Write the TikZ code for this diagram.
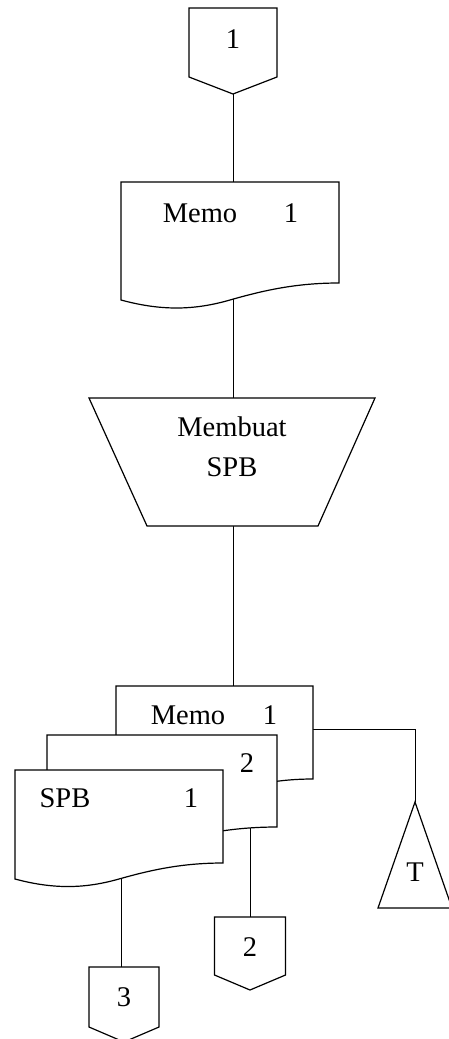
\documentclass[tikz,border=0pt]{standalone}
\usepackage{fontspec}
\setmainfont{Liberation Serif}
\pgfdeclarelayer{bg}
\pgfsetlayers{bg,main}

% Document sheet with a wavy bottom edge.
% #1 name, #2 left, #3 top, #4 right, #5 bottom of right side, #6 bottom of left side
\newcommand\docsheet[6]{%
  \draw[sheet] (#2,#6) -- (#2,#3) -- (#4,#3) -- (#4,#5)
    .. controls ({#2+0.8*(#4-#2)},#5) and ({#2+0.65*(#4-#2)},{#6-0.55*(#6-#5)}) .. ({#2+0.5*(#4-#2)},#6)
    .. controls ({#2+0.35*(#4-#2)},{#6+0.55*(#6-#5)}) and ({#2+0.2*(#4-#2)},{#6+0.7*(#6-#5)}) .. (#2,#6) -- cycle;
  \coordinate (#1-mid) at ({(#2+#4)/2},{(#3+#5)/2});
}

% Off-page connector (pentagon pointing down).
% #1 name, #2 centre x, #3 top, #4 half width, #5 bottom of sides, #6 tip
\newcommand\offpage[6]{%
  \draw[sheet] ({#2-#4},#3) -- ({#2+#4},#3) -- ({#2+#4},#5) -- (#2,#6) -- ({#2-#4},#5) -- cycle;
  \coordinate (#1-top) at (#2,#3);
  \coordinate (#1-tip) at (#2,#6);
  \coordinate (#1-mid) at (#2,{(#3+#5)/2});
}

\begin{document}
\begin{tikzpicture}[x=1pt,y=-1pt,line width=1.2pt,line join=miter,
  sheet/.style={draw=black,fill=white},
  flow/.style={draw=black},
  lbl/.style={font=\fontsize{28.5}{34}\selectfont,inner sep=0pt,anchor=base}]
\useasboundingbox (0,0) rectangle (448,1039);

% entry connector
\offpage{cin}{233}{8}{44}{77}{94}
\node[lbl] (cin-txt) at (233,48.5) {1};

% memo
\docsheet{memoA}{121}{182}{339}{283}{300}
\coordinate (memoA-in) at (233,182);
\coordinate (memoA-out) at (233,260);
\node[lbl] (memoA-name) at (200,222.5) {Memo};
\node[lbl] (memoA-no) at (291,222.5) {1};

% manual operation
\draw[sheet] (89,398) -- (375,398) -- (318,526) -- (147,526) -- cycle;
\coordinate (proc-mid) at (233,460);
\node[lbl] (proc-l1) at (232,436.5) {Membuat};
\node[lbl] (proc-l2) at (232,476.5) {SPB};

% stacked output documents
\docsheet{memoB}{116}{686}{313}{779}{796}
\coordinate (memoB-in) at (233,686);
\coordinate (memoB-side) at (300,729);
\node[lbl] (memoB-name) at (188,724.5) {Memo};
\node[lbl] (memoB-no) at (270,724.5) {1};

\docsheet{spbB}{47}{735}{277}{827}{844}
\coordinate (spbB-out) at (250,800);
\node[lbl] (spbB-no) at (247,772.5) {2};

\docsheet{spbA}{15}{770}{223}{863}{879}
\coordinate (spbA-out) at (121,850);
\node[lbl] (spbA-name) at (65,807.5) {SPB};
\node[lbl] (spbA-no) at (191,807.5) {1};

% file (temporary)
\draw[sheet] (415,802) -- (452,908) -- (378,908) -- cycle;
\coordinate (file-apex) at (415,802);
\node[lbl] (file-txt) at (415,881.5) {T};

% exit connectors
\offpage{cout2}{250}{917}{35.5}{975}{990}
\node[lbl] (cout2-txt) at (250,956.5) {2};
\offpage{cout3}{124}{967}{35}{1027}{1042}
\node[lbl] (cout3-txt) at (124,1006.5) {3};

% flow lines, kept behind the filled shapes
\begin{pgfonlayer}{bg}
  \draw[flow] (cin-tip) -- (memoA-in);
  \draw[flow] (memoA-out) -- (proc-mid);
  \draw[flow] (proc-mid) -- (memoB-in);
  \draw[flow] (memoB-side) -| (file-apex);
  \draw[flow] (spbB-out) -- (cout2-top);
  \draw[flow] (spbA-out) -- (spbA-out |- cout3-top);
\end{pgfonlayer}
\end{tikzpicture}
\end{document}
